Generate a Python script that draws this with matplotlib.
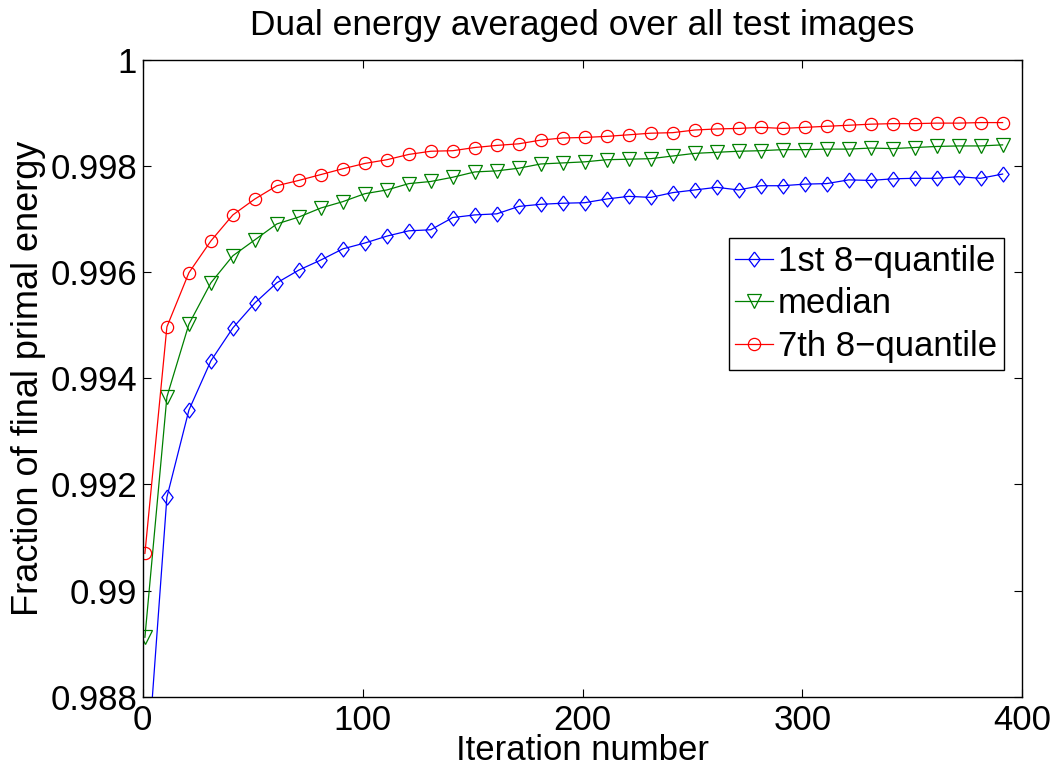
import numpy as np
import matplotlib
matplotlib.use('Agg')
import matplotlib.pyplot as plt
from matplotlib.ticker import FuncFormatter

plt.rcParams['font.family'] = ['Liberation Sans', 'DejaVu Sans']

# iterations 1, 11, 21, ..., 391
iters = list(range(1, 400, 10))

q1 = [0.98606, 0.99176, 0.99340, 0.99433, 0.99495, 0.99542, 0.99580, 0.99604,
      0.99623, 0.99644, 0.99655, 0.99668, 0.99678, 0.99680, 0.99703, 0.99708,
      0.99710, 0.99724, 0.99728, 0.99730, 0.99731, 0.99738, 0.99743, 0.99741,
      0.99750, 0.99755, 0.99760, 0.99755, 0.99763, 0.99763, 0.99766, 0.99767,
      0.99774, 0.99773, 0.99776, 0.99777, 0.99777, 0.99780, 0.99777, 0.99785]

median = [0.98912, 0.99365, 0.99502, 0.99580, 0.99631, 0.99661, 0.99691, 0.99704,
          0.99721, 0.99733, 0.99748, 0.99755, 0.99767, 0.99771, 0.99779, 0.99789,
          0.99791, 0.99796, 0.99804, 0.99806, 0.99808, 0.99812, 0.99813, 0.99814,
          0.99819, 0.99824, 0.99826, 0.99828, 0.99829, 0.99831, 0.99831, 0.99832,
          0.99832, 0.99834, 0.99833, 0.99835, 0.99837, 0.99838, 0.99838, 0.99840]

q7 = [0.99070, 0.99497, 0.99599, 0.99659, 0.99708, 0.99738, 0.99763, 0.99773,
      0.99784, 0.99795, 0.99805, 0.99812, 0.99822, 0.99828, 0.99829, 0.99835,
      0.99839, 0.99842, 0.99849, 0.99853, 0.99854, 0.99856, 0.99859, 0.99862,
      0.99863, 0.99868, 0.99870, 0.99871, 0.99873, 0.99871, 0.99873, 0.99875,
      0.99877, 0.99879, 0.99880, 0.99880, 0.99881, 0.99881, 0.99882, 0.99882]

fig = plt.figure(figsize=(10.54, 7.67), dpi=100)
ax = fig.add_axes([0.1354, 0.0917, 0.8346, 0.8301])

# slightly narrow diamond, like the MATLAB one
diamond = [(0, 1), (0.75, 0), (0, -1), (-0.75, 0), (0, 1)]

ax.plot(iters, q1, color='#0000ff', lw=0.9, marker=diamond, ms=10.8, mfc='none',
        mew=0.9, label='1st 8\u2212quantile')
ax.plot(iters, median, color='#008000', lw=0.9, marker='v', ms=9.5, mfc='none',
        mew=0.9, label='median')
ax.plot(iters, q7, color='#ff0000', lw=0.9, marker='o', ms=8.8, mfc='none',
        mew=0.9, label='7th 8\u2212quantile')

ax.set_xlim(0, 400)
ax.set_ylim(0.988, 1.0)
ax.set_xticks([0, 100, 200, 300, 400])
ax.set_yticks([0.988, 0.99, 0.992, 0.994, 0.996, 0.998, 1.0])
ax.yaxis.set_major_formatter(FuncFormatter(lambda v, p: '%g' % round(v, 4)))
ax.tick_params(direction='in', top=True, right=True, labelsize=25, length=6,
               width=0.8)
ax.tick_params(axis='x', pad=5)
ax.tick_params(axis='y', pad=4)
for s in ax.spines.values():
    s.set_linewidth(1.0)

ax.set_title('Dual energy averaged over all test images', fontsize=25.5, pad=18)
ax.set_xlabel('Iteration number', fontsize=25, labelpad=-2)
ax.set_ylabel('Fraction of final primal energy', fontsize=26, labelpad=3)

leg = ax.legend(loc='upper right', bbox_to_anchor=(0.979, 0.7204), borderaxespad=0,
                fontsize=25, handlelength=1.07, handletextpad=0.15, labelspacing=0.27,
                borderpad=0.2, fancybox=False, framealpha=1, edgecolor='black')
leg.get_frame().set_linewidth(1.0)

fig.savefig('out.png', dpi=100)
